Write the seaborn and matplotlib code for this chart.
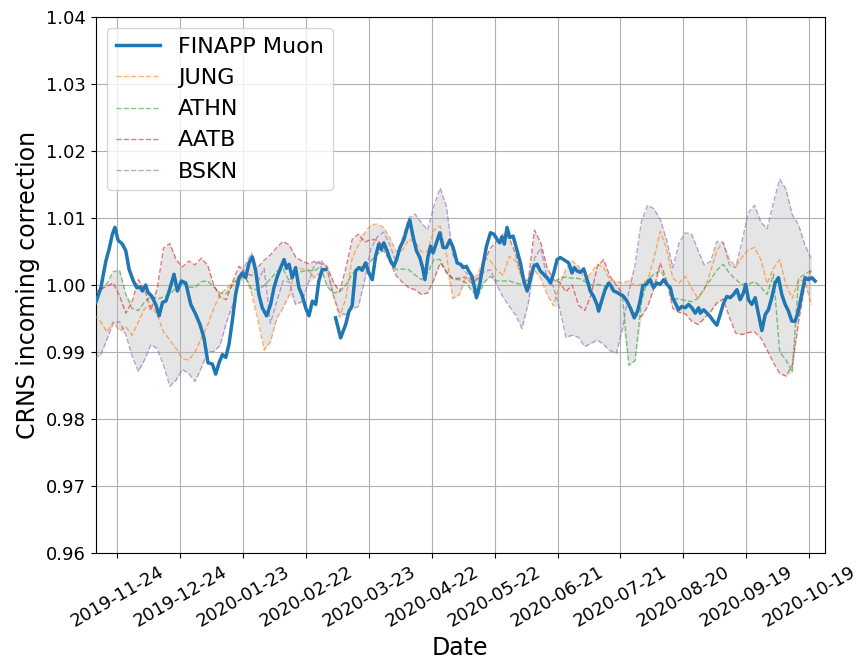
import matplotlib
matplotlib.use("Agg")
import matplotlib.pyplot as plt
import matplotlib.dates as mdates
import seaborn as sns
import numpy as np
import pandas as pd

# reference neutron monitors, sampled every 3 days from 2019-11-13
ref_dates = pd.date_range("2019-11-13", periods=115, freq="3D")

jung = [
    0.9955, 0.9945, 0.9930, 0.9945, 0.9932, 0.9938, 0.9925, 0.9945, 0.9965, 0.9970,
    0.9955, 0.9930, 0.9918, 0.9905, 0.9890, 0.9888, 0.9900, 0.9920, 0.9940, 0.9965,
    0.9986, 0.9995, 1.0004, 1.0010, 1.0012, 0.9988, 0.9948, 0.9903, 0.9915, 0.9950,
    0.9966, 0.9985, 1.0027, 1.0024, 1.0022, 1.0011, 1.0019, 1.0024, 0.9985, 0.9952,
    0.9980, 1.0040, 1.0060, 1.0078, 1.0090, 1.0091, 1.0086, 1.0070, 1.0050, 1.0052,
    1.0068, 1.0065, 1.0050, 1.0050, 1.0082, 1.0088, 1.0045, 0.9980, 0.9985, 1.0010,
    1.0008, 1.0016, 1.0041, 1.0036, 1.0022, 1.0015, 1.0043, 1.0036, 1.0010, 1.0003,
    1.0022, 1.0010, 0.9986, 0.9969, 1.0000, 1.0024, 1.0036, 1.0028, 1.0007, 1.0018,
    1.0031, 1.0026, 1.0007, 1.0005, 1.0003, 1.0006, 0.9999, 1.0001, 1.0008, 1.0040,
    1.0080, 1.0054, 1.0010, 1.0003, 1.0013, 0.9995, 0.9980, 0.9993, 1.0020, 1.0052,
    1.0063, 1.0038, 1.0028, 1.0041, 1.0053, 1.0056, 1.0038, 1.0002, 1.0025, 1.0038,
    1.0000, 0.9980, 1.0007, 1.0007, 0.9970,
]

athn = [
    0.9986, 0.9992, 1.0002, 1.0020, 1.0022, 0.9986, 0.9965, 0.9962, 0.9975, 0.9983,
    0.9979, 0.9982, 0.9986, 0.9996, 1.0003, 0.9997, 0.9996, 1.0005, 1.0006, 0.9997,
    0.9988, 0.9987, 1.0000, 1.0011, 1.0012, 0.9994, 0.9993, 0.9999, 1.0009, 1.0020,
    1.0024, 1.0006, 1.0020, 1.0020, 1.0022, 1.0021, 1.0028, 0.9998, 0.9988, 0.9990,
    1.0000, 1.0016, 1.0026, 1.0029, 1.0036, 1.0046, 1.0051, 1.0036, 1.0023, 1.0024,
    1.0023, 1.0015, 1.0008, 1.0018, 1.0038, 1.0038, 1.0018, 1.0009, 1.0008, 1.0004,
    0.9992, 0.9983, 1.0004, 1.0013, 1.0006, 1.0006, 1.0006, 1.0003, 1.0001, 1.0010,
    1.0031, 1.0018, 1.0008, 1.0004, 1.0010, 1.0012, 1.0010, 1.0010, 1.0005, 1.0000,
    1.0001, 0.9999, 0.9995, 0.9990, 0.9982, 0.9880, 0.9887, 0.9975, 1.0008, 1.0016,
    1.0022, 1.0005, 0.9980, 0.9979, 0.9977, 0.9975, 0.9980, 0.9995, 1.0008, 1.0022,
    1.0031, 1.0018, 1.0008, 1.0001, 1.0001, 1.0005, 0.9997, 0.9986, 1.0016, 0.9900,
    0.9888, 0.9870, 1.0010, 1.0016, 1.0022,
]

aatb = [
    0.9989, 0.9994, 0.9998, 1.0003, 0.9984, 0.9958, 0.9975, 1.0008, 0.9993, 0.9962,
    0.9995, 1.0055, 1.0062, 1.0038, 1.0027, 1.0036, 1.0030, 1.0040, 1.0030, 1.0000,
    0.9982, 0.9978, 1.0005, 1.0028, 1.0018, 1.0014, 1.0026, 1.0037, 1.0045, 1.0056,
    1.0065, 1.0060, 1.0042, 1.0036, 1.0032, 1.0035, 1.0032, 1.0028, 1.0005, 0.9990,
    1.0025, 1.0068, 1.0076, 1.0064, 1.0068, 1.0067, 1.0058, 1.0035, 1.0014, 1.0004,
    0.9996, 0.9993, 0.9986, 0.9988, 1.0008, 1.0033, 1.0020, 1.0010, 1.0010, 1.0012,
    1.0003, 1.0009, 1.0035, 1.0055, 1.0065, 1.0076, 1.0070, 1.0046, 1.0012, 1.0006,
    1.0082, 1.0063, 1.0026, 1.0008, 1.0004, 0.9990, 1.0000, 0.9970, 0.9962, 0.9985,
    1.0028, 1.0038, 1.0013, 1.0000, 0.9987, 0.9971, 0.9956, 0.9953, 0.9968, 0.9995,
    1.0033, 1.0007, 0.9965, 0.9959, 0.9957, 0.9946, 0.9941, 0.9950, 0.9960, 0.9973,
    0.9979, 0.9952, 0.9928, 0.9926, 0.9929, 0.9930, 0.9921, 0.9903, 0.9884, 0.9868,
    0.9864, 0.9880, 0.9945, 1.0000, 1.0022,
]

bskn = [
    0.9892, 0.9895, 0.9919, 0.9943, 0.9945, 0.9926, 0.9894, 0.9871, 0.9889, 0.9911,
    0.9905, 0.9880, 0.9849, 0.9858, 0.9874, 0.9868, 0.9856, 0.9876, 0.9900, 0.9901,
    0.9910, 0.9944, 0.9970, 1.0000, 1.0030, 1.0048, 1.0005, 1.0025, 0.9943, 0.9975,
    1.0006, 1.0005, 0.9971, 0.9975, 1.0002, 1.0030, 1.0037, 1.0026, 0.9985, 0.9958,
    0.9956, 0.9964, 0.9968, 1.0008, 1.0055, 1.0072, 1.0079, 1.0060, 1.0034, 1.0070,
    1.0100, 1.0106, 1.0093, 1.0082, 1.0118, 1.0145, 1.0117, 1.0045, 1.0030, 1.0020,
    1.0008, 1.0010, 1.0020, 1.0023, 1.0000, 0.9982, 0.9968, 0.9955, 0.9935, 0.9972,
    1.0040, 1.0055, 1.0010, 0.9998, 0.9965, 0.9922, 0.9925, 0.9922, 0.9908, 0.9913,
    0.9918, 0.9911, 0.9902, 0.9898, 0.9935, 0.9990, 1.0030, 1.0095, 1.0119, 1.0114,
    1.0098, 1.0068, 1.0026, 1.0063, 1.0078, 1.0076, 1.0052, 1.0030, 1.0035, 1.0065,
    1.0064, 1.0030, 1.0026, 1.0065, 1.0108, 1.0119, 1.0094, 1.0084, 1.0123, 1.0158,
    1.0143, 1.0105, 1.0090, 1.0060, 1.0040,
]

# FINAPP muon detector: days since 2019-11-13 and correction factor
muon_days = [
    0.7, 3.1, 5.5, 7.0, 8.6, 9.8, 11.3, 13.4, 15.0, 16.6, 18.6, 20.2, 21.8, 22.9,
    24.5, 25.6, 27.2, 29.3, 30.9, 32.5, 34.1, 35.7, 38.0, 39.6, 41.5, 43.6, 46.0,
    48.4, 50.4, 52.3, 54.2, 56.3, 57.9, 59.5, 61.1, 62.7, 64.2, 65.8, 67.4, 69.0,
    70.6, 72.2, 73.8, 75.4, 77.0, 78.5, 80.1, 82.2, 84.1, 85.7, 87.3, 88.9, 90.5,
    91.7, 92.9, 94.4, 96.0, 97.6, 99.2, 100.8, 102.4, 104.0, 105.6, 107.1, 108.7,
    110.3,
    115.1, 117.5, 119.9, 121.5, 123.0, 124.6, 126.2, 127.8, 129.4, 131.0, 132.6,
    134.2, 135.7, 136.9, 138.1, 139.7, 141.3, 142.9, 144.2, 145.8, 147.7, 149.3,
    150.5, 152.0, 153.7, 155.3, 156.6, 157.7, 159.1, 160.4, 161.6, 163.2, 164.8,
    166.4, 168.0, 169.6, 171.2, 173.1, 174.7, 176.3, 177.5, 178.6, 180.2, 181.4,
    182.3, 183.9, 185.5, 187.1, 189.0, 190.6, 192.2, 193.4, 194.5, 195.6, 196.9,
    198.2, 199.8, 201.7, 203.3, 204.9, 206.5, 208.0, 209.6, 211.2, 212.8, 214.4,
    216.0, 217.6, 219.2, 220.8, 222.3, 224.4, 226.3, 227.9, 229.0, 230.3, 231.9,
    233.5, 235.1, 236.6, 238.2, 239.8, 240.6, 242.2, 243.8, 245.4, 246.5, 247.8,
    249.4, 250.9, 252.5, 254.1, 255.7, 257.6, 259.2, 260.5, 261.7, 263.3, 265.2,
    266.8, 268.4, 270.0, 271.6, 273.2, 274.8, 275.9, 277.2, 278.7, 280.3, 281.9,
    283.5, 285.1, 286.7, 288.3, 289.1, 290.7, 292.3, 293.8, 295.4, 297.0, 298.6,
    300.2, 301.8, 303.4, 305.0, 306.6, 308.1, 309.7, 310.8, 312.1, 313.7, 315.3,
    316.9, 318.5, 320.1, 321.6, 323.2, 324.8, 326.4, 328.0, 329.6, 331.2, 332.8,
    334.4, 335.9, 337.5, 339.1, 340.7, 342.3, 343.9,
]
muon_vals = [
    0.9974, 0.9996, 1.0036, 1.0053, 1.0076, 1.0086, 1.0067, 1.0061, 1.0051, 1.0023,
    1.0006, 0.9996, 0.9997, 0.9991, 1.0000, 0.9989, 0.9984, 0.9971, 0.9954, 0.9974,
    0.9976, 0.9991, 1.0016, 0.9991, 1.0006, 1.0003, 0.9971, 0.9956, 0.9941, 0.9921,
    0.9884, 0.9882, 0.9867, 0.9884, 0.9896, 0.9892, 0.9911, 0.9946, 0.9986, 1.0011,
    1.0018, 1.0011, 1.0033, 1.0042, 1.0021, 0.9986, 0.9966, 0.9954, 0.9971, 0.9996,
    1.0013, 1.0026, 1.0038, 1.0025, 1.0031, 1.0011, 1.0026, 0.9996, 0.9984, 0.9966,
    0.9954, 0.9976, 0.9971, 1.0006, 1.0023, 1.0023,
    0.9951, 0.9921, 0.9941, 0.9961, 0.9969, 1.0021, 1.0026, 1.0022, 1.0033, 1.0018,
    1.0008, 1.0043, 1.0061, 1.0053, 1.0063, 1.0051, 1.0036, 1.0028, 1.0038, 1.0056,
    1.0068, 1.0086, 1.0097, 1.0073, 1.0051, 1.0041, 1.0026, 1.0008, 1.0041, 1.0058,
    1.0048, 1.0063, 1.0078, 1.0056, 1.0056, 1.0067, 1.0056, 1.0033, 1.0031, 1.0026,
    1.0028, 1.0021, 1.0013, 0.9996, 0.9981, 1.0001, 1.0031, 1.0058, 1.0078, 1.0076,
    1.0068, 1.0063, 1.0072, 1.0061, 1.0086, 1.0071, 1.0073, 1.0051, 1.0033, 1.0006,
    0.9991, 1.0008, 1.0028, 1.0031, 1.0021, 1.0016, 1.0011, 1.0003, 1.0018, 1.0038,
    1.0041, 1.0037, 1.0033, 1.0018, 1.0026, 1.0021, 1.0019, 1.0024, 1.0008, 0.9991,
    0.9983, 0.9971, 0.9961, 0.9978, 0.9994, 1.0003, 0.9999, 0.9991, 0.9989, 0.9986,
    0.9983, 0.9976, 0.9966, 0.9951, 0.9961, 0.9978, 0.9999, 1.0001, 1.0008, 0.9996,
    1.0003, 1.0001, 1.0008, 1.0001, 0.9996, 0.9981, 0.9973, 0.9963, 0.9968, 0.9966,
    0.9971, 0.9966, 0.9958, 0.9966, 0.9958, 0.9963, 0.9958, 0.9953, 0.9946, 0.9940,
    0.9956, 0.9973, 0.9983, 0.9981, 0.9986, 0.9993, 0.9978, 0.9988, 1.0001, 0.9978,
    0.9971, 0.9981, 0.9956, 0.9932, 0.9956, 0.9963, 0.9981, 1.0003, 1.0011, 0.9986,
    0.9971, 0.9961, 0.9946, 0.9946, 0.9961, 0.9986, 1.0011, 1.0008, 1.0011, 1.0006,
]
muon_gap_after = 110.3  # no muon data between the two segments

start = pd.Timestamp("2019-11-13")
muon = pd.DataFrame({
    "date": start + pd.to_timedelta(muon_days, unit="D"),
    "corr": muon_vals,
})
muon_a = muon[np.array(muon_days) <= muon_gap_after]
muon_b = muon[np.array(muon_days) > muon_gap_after]

refs = pd.DataFrame({"JUNG": jung, "ATHN": athn, "AATB": aatb, "BSKN": bskn}, index=ref_dates)
ref_colors = {"JUNG": "C1", "ATHN": "C2", "AATB": "C3", "BSKN": "C4"}

fig, ax = plt.subplots(figsize=(8.62, 6.59), dpi=100)

ax.fill_between(refs.index, refs.min(axis=1), refs.max(axis=1),
                color="grey", alpha=0.2, linewidth=0, zorder=1)

sns.lineplot(data=muon_a, x="date", y="corr", ax=ax, color="C0",
             linewidth=2.5, label="FINAPP Muon", zorder=4)
sns.lineplot(data=muon_b, x="date", y="corr", ax=ax, color="C0",
             linewidth=2.5, label="_nolegend_", zorder=4)

for name in refs.columns:
    sns.lineplot(x=refs.index, y=refs[name], ax=ax, color=ref_colors[name],
                 linewidth=1, linestyle="--", alpha=0.6, label=name, zorder=3)

ax.set_ylim(0.96, 1.04)
ax.set_xlim(pd.Timestamp("2019-11-13 15:00"), pd.Timestamp("2020-10-26 14:00"))
ax.set_xticks(pd.date_range("2019-11-24", "2020-10-19", freq="30D"))
ax.xaxis.set_major_formatter(mdates.DateFormatter("%Y-%m-%d"))
plt.xticks(rotation=30)
ax.tick_params(labelsize=13)

ax.set_xlabel("Date", fontsize=17)
ax.set_ylabel("CRNS incoming correction", fontsize=17)
ax.grid(True)
ax.legend(loc="upper left", fontsize=16)

plt.subplots_adjust(left=0.111, right=0.957, top=0.974, bottom=0.161)
plt.savefig("out.png", dpi=100)
